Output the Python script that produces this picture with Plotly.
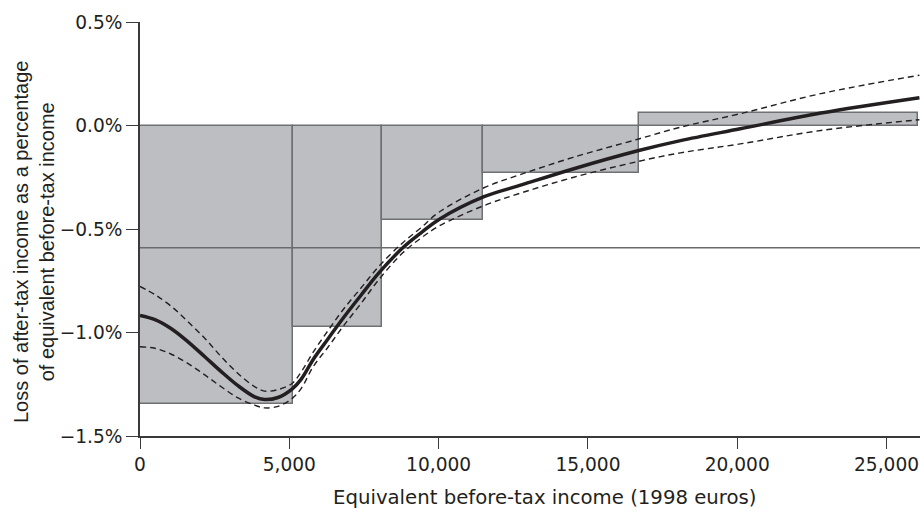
import plotly.graph_objects as go

# ---- data ----
bin_edges = [0, 5110, 8090, 11490, 16710, 26050]
bin_values = [-1.345, -0.971, -0.456, -0.231, 0.06]
mean_value = -0.591

curve_x = [0, 500, 1050, 1600, 2170, 2720, 3280, 3840, 4170, 4620, 5100, 5400, 5800, 6300,
           6800, 7400, 8000, 8800, 9400, 10000, 11500, 12800, 14500, 16700, 18100,
           20100, 22800, 26100]
curve_y = [-0.918, -0.938, -0.982, -1.044, -1.117, -1.189, -1.257, -1.311, -1.324, -1.314,
           -1.272, -1.225, -1.13, -1.03, -0.931, -0.82, -0.712, -0.591, -0.52, -0.455, -0.345,
           -0.286, -0.210, -0.121, -0.073, -0.016, 0.060, 0.134]
upper_y = [-0.777, -0.817, -0.874, -0.947, -1.028, -1.117, -1.198, -1.262, -1.283, -1.276,
           -1.245, -1.19, -1.095, -0.99, -0.89, -0.785, -0.68, -0.566, -0.495, -0.42, -0.302,
           -0.234, -0.154, -0.065, -0.008, 0.057, 0.154, 0.243]
lower_y = [-1.069, -1.076, -1.105, -1.149, -1.205, -1.262, -1.316, -1.351, -1.364, -1.357,
           -1.318, -1.27, -1.165, -1.07, -0.971, -0.86, -0.744, -0.615, -0.545, -0.487, -0.388,
           -0.324, -0.251, -0.173, -0.132, -0.089, -0.024, 0.028]

x_ticks = [0, 5000, 10000, 15000, 20000, 25000]
x_ticktext = ["0", "5,000", "10,000", "15,000", "20,000", "25,000"]
y_ticks = [-1.5, -1.0, -0.5, 0.0, 0.5]
y_ticktext = ["\u22121.5%", "\u22121.0%", "\u22120.5%", "0.0%", "0.5%"]
x_max = 26120

bar_centers = [(a + b) / 2 for a, b in zip(bin_edges[:-1], bin_edges[1:])]
bar_widths = [b - a for a, b in zip(bin_edges[:-1], bin_edges[1:])]

FONT = "DejaVu Sans, Liberation Sans, sans-serif"
FONT_Y = "Liberation Sans, Arial, sans-serif"
TXT = "#231f20"

fig = go.Figure()
fig.add_trace(go.Bar(x=bar_centers, y=bin_values, width=bar_widths, base=0,
                     marker=dict(color="#bdbec2", line=dict(color="#6f7073", width=1.5)),
                     hoverinfo="skip"))
fig.add_trace(go.Scatter(x=[0, x_max], y=[mean_value, mean_value], mode="lines",
                         line=dict(color="#6a6b6e", width=1.5)))
for yy in (upper_y, lower_y):
    fig.add_trace(go.Scatter(x=curve_x, y=yy, mode="lines",
                             line=dict(color=TXT, width=1.4, dash="6px,4px",
                                       shape="spline", smoothing=1.0)))
fig.add_trace(go.Scatter(x=curve_x, y=curve_y, mode="lines",
                         line=dict(color=TXT, width=3.5, shape="spline", smoothing=1.0)))

fig.update_layout(
    width=920, height=511,
    margin=dict(l=140, r=0, t=22, b=75),
    plot_bgcolor="white", paper_bgcolor="white",
    showlegend=False, bargap=0,
    font=dict(family=FONT, size=18.6, color=TXT),
    xaxis=dict(range=[0, x_max], tickvals=x_ticks, ticktext=x_ticktext,
               showgrid=False, zeroline=False, showline=True, linecolor="#3a3a3a",
               linewidth=1.5, ticks="outside", ticklen=11, tickwidth=1.3,
               tickcolor="#3a3a3a", tickfont=dict(size=18.6)),
    yaxis=dict(range=[-1.5, 0.5], tickvals=y_ticks, ticktext=y_ticktext,
               showgrid=False, zeroline=False, showline=True, linecolor="#3a3a3a",
               linewidth=1.5, ticks="outside", ticklen=12, tickwidth=1.3,
               tickcolor="#3a3a3a", tickfont=dict(size=18.6)),
    annotations=[
        dict(text="Equivalent before-tax income (1998 euros)", xref="paper", yref="paper",
             x=(544 - 140) / 780, y=-(497 - 436) / 414, xanchor="center", yanchor="middle",
             showarrow=False, font=dict(size=19.7)),
        dict(text="Loss of after-tax income as a percentage<br>of equivalent before-tax income",
             xref="paper", yref="paper", x=-(140 - 34) / 780, y=(436 - 242) / 414,
             xanchor="center", yanchor="middle", textangle=-90, showarrow=False,
             font=dict(family=FONT_Y, size=20)),
    ],
)

fig.write_html("out.html")
